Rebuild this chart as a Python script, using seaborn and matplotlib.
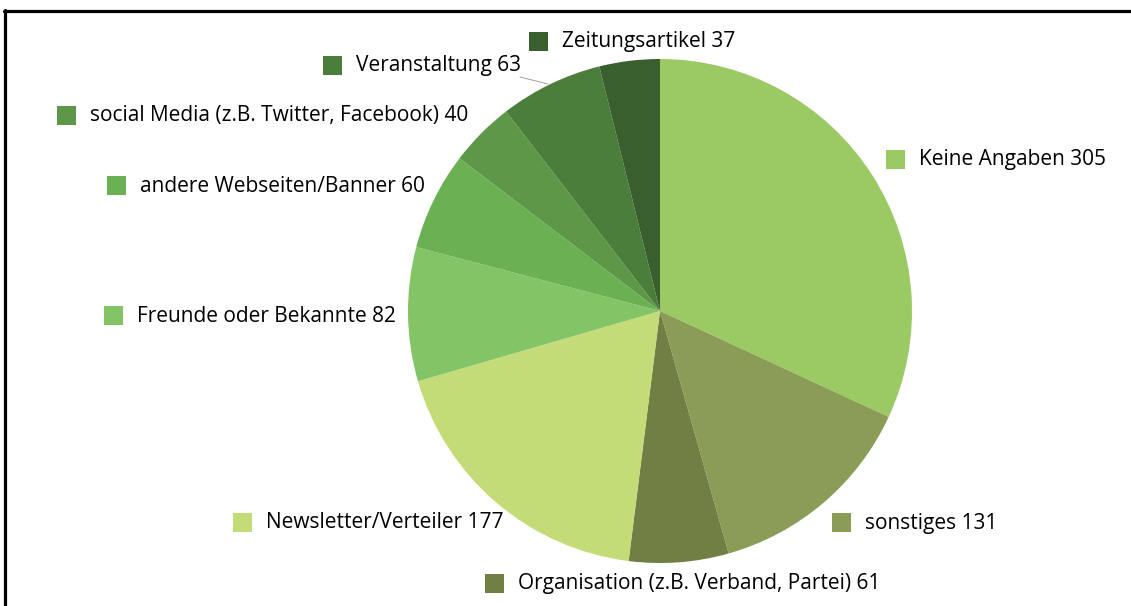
import matplotlib
matplotlib.use('Agg')
import matplotlib.pyplot as plt
import seaborn as sns
from matplotlib.patches import Rectangle
from matplotlib.lines import Line2D

categories = ["Keine Angaben", "sonstiges", "Organisation (z.B. Verband, Partei)",
              "Newsletter/Verteiler", "Freunde oder Bekannte", "andere Webseiten/Banner",
              "social Media (z.B. Twitter, Facebook)", "Veranstaltung", "Zeitungsartikel"]
values = [305, 131, 61, 177, 82, 60, 40, 63, 37]
colors = ["#9bca65", "#8a9c55", "#717f45", "#c4dc78", "#82c466", "#6bb154",
          "#5c9848", "#4c7e3b", "#3a5f2e"]
# label anchor (left edge of square, vertical centre) in pixels
label_pos = [(886, 159), (832, 522), (485, 583), (233, 522), (104, 315),
             (107, 185), (57, 115), (323, 65), (529, 41)]

sns.set_theme(style="white")
plt.rcParams['font.family'] = ['Open Sans', 'DejaVu Sans']

W, H = 1131, 606
fig = plt.figure(figsize=(W / 100, H / 100), dpi=100)
ax = fig.add_axes([0, 0, 1, 1])
ax.pie(values, colors=colors, startangle=-90, counterclock=True,
       center=(660, 311), radius=252, wedgeprops=dict(linewidth=0))
ax.set_xlim(0, W)
ax.set_ylim(H, 0)
ax.set_aspect('equal')
ax.axis('off')

sq = 19
for cat, val, col, (x, y) in zip(categories, values, colors, label_pos):
    ax.add_patch(Rectangle((x, y - sq / 2), sq, sq, facecolor=col, edgecolor='none'))
    ax.text(x + sq + 14, y + 1, f"{cat} {val}", va='center', ha='left',
            fontsize=15, color='#000000')

# leader line for Veranstaltung
ax.add_line(Line2D([520, 548], [77, 84], color='#a0a0a0', lw=0.7))

# frame (left and top)
fig.add_artist(Line2D([5 / W, 5 / W], [0, 1 - 10 / H], transform=fig.transFigure,
                      color='black', lw=2.3))
fig.add_artist(Line2D([4 / W, 1], [1 - 11 / H, 1 - 11 / H], transform=fig.transFigure,
                      color='black', lw=2.3))

fig.savefig("out.png", dpi=100)
